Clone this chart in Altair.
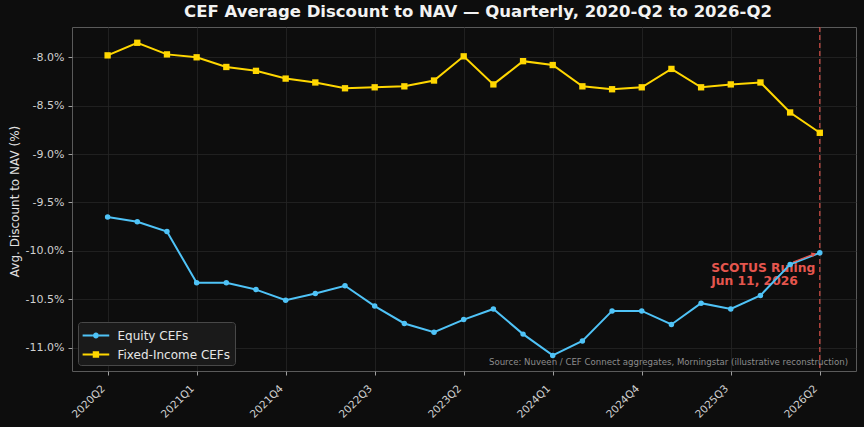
import json

import altair as alt
import pandas as pd

# Quarter labels along the x axis (one per observation)
quarters = [
    "2020Q2", "2020Q3", "2020Q4", "2021Q1", "2021Q2", "2021Q3", "2021Q4",
    "2022Q1", "2022Q2", "2022Q3", "2022Q4", "2023Q1", "2023Q2", "2023Q3",
    "2023Q4", "2024Q1", "2024Q2", "2024Q3", "2024Q4", "2025Q1", "2025Q2",
    "2025Q3", "2025Q4", "2026Q1", "2026Q2",
]

# Average discount to NAV, in percent
equity = [
    -9.65, -9.70, -9.80, -10.33, -10.33, -10.40, -10.51, -10.44, -10.36,
    -10.57, -10.75, -10.84, -10.71, -10.60, -10.86, -11.08, -10.93, -10.62,
    -10.62, -10.76, -10.54, -10.60, -10.46, -10.14, -10.02,
]
fixed_income = [
    -7.98, -7.85, -7.97, -8.00, -8.10, -8.14, -8.22, -8.26, -8.32, -8.31,
    -8.30, -8.24, -7.99, -8.28, -8.04, -8.08, -8.30, -8.33, -8.31, -8.12,
    -8.31, -8.28, -8.26, -8.57, -8.78,
]

series_names = ["Equity CEFs", "Fixed-Income CEFs"]
series_colors = ["#4FC3F7", "#FFD700"]

y_ticks = [-8.0, -8.5, -9.0, -9.5, -10.0, -10.5, -11.0]
x_tick_idx = list(range(0, len(quarters), 3))

# Event marker
event_idx = 24
event_text = ["SCOTUS Ruling", "Jun 11, 2026"]
event_text_at = {"idx": 20.34, "value": -10.215}
arrow_from = {"idx": 23.10, "value": -10.115}
arrow_to = {"idx": 23.80, "value": -10.033}

source_note = ("Source: Nuveen / CEF Connect aggregates, Morningstar "
               "(illustrative reconstruction)")

RED = "#E5564E"
FONT = "DejaVu Sans"

rows = []
for name, values in zip(series_names, [equity, fixed_income]):
    for i, (q, v) in enumerate(zip(quarters, values)):
        rows.append({"idx": i, "quarter": q, "series": name, "value": v})
df = pd.DataFrame(rows)

x_enc = alt.X(
    "idx:Q",
    scale=alt.Scale(domain=[-1.2, 25.22], nice=False, zero=False),
    axis=alt.Axis(
        values=x_tick_idx,
        labelExpr=json.dumps(quarters) + "[datum.value]",
        labelAngle=-45,
        labelAlign="right",
        labelBaseline="top",
        labelOffset=-8,
        labelPadding=8,
        labelFontSize=10.5,
        title=None,
    ),
)
y_enc = alt.Y(
    "value:Q",
    scale=alt.Scale(domain=[-11.241, -7.687], nice=False, zero=False),
    axis=alt.Axis(
        values=y_ticks,
        labelExpr="(datum.value < 0 ? '-' : '') + format(abs(datum.value), '.1f') + '%'",
        labelPadding=4,
        title="Avg. Discount to NAV (%)",
        titleX=-58,
        titleY=174,
        titleAngle=-90,
        titleAlign="center",
        titleBaseline="middle",
    ),
)

base = alt.Chart(df)

# Legend symbols: a short line with the series marker in the middle
legend_paths = [
    "M-1,-0.113H0.162V0.113H-1Z M0.838,-0.113H2V0.113H0.838Z "
    "M0.162,0A0.338,0.338 0 1,0 0.838,0A0.338,0.338 0 1,0 0.162,0Z",
    "M-1,-0.113H0.14V0.113H-1Z M0.86,-0.113H2V0.113H0.86Z "
    "M0.14,-0.36H0.86V0.36H0.14Z",
]
legend_layer = base.mark_point(opacity=0, filled=True).encode(
    x=x_enc,
    y=y_enc,
    color=alt.Color(
        "series:N",
        scale=alt.Scale(domain=series_names, range=series_colors),
        legend=alt.Legend(title=None, symbolOpacity=1),
    ),
    shape=alt.Shape(
        "series:N",
        scale=alt.Scale(domain=series_names, range=legend_paths),
        legend=alt.Legend(title=None, symbolOpacity=1),
    ),
)

event_rule = alt.Chart(pd.DataFrame({"idx": [event_idx]})).mark_rule(
    color=RED, strokeDash=[5, 3], strokeWidth=1.3, opacity=0.85
).encode(x="idx:Q")

event_label = alt.Chart(pd.DataFrame([event_text_at])).mark_text(
    text=event_text, align="left", baseline="alphabetic", font=FONT,
    fontSize=12.3, fontWeight="bold", color=RED, lineHeight=13,
).encode(x="idx:Q", y="value:Q")

arrow_df = pd.DataFrame([{
    "idx": arrow_from["idx"], "value": arrow_from["value"],
    "idx2": arrow_to["idx"], "value2": arrow_to["value"],
}])
arrow_shaft = alt.Chart(arrow_df).mark_rule(color=RED, strokeWidth=1.3).encode(
    x="idx:Q", y="value:Q", x2="idx2:Q", y2="value2:Q"
)
arrow_head = alt.Chart(pd.DataFrame([arrow_to])).mark_point(
    shape="triangle-right", filled=True, color=RED, size=28, angle=339, opacity=1
).encode(x="idx:Q", y="value:Q")


def series_layers(name, color, shape, size):
    sub = base.transform_filter(alt.datum.series == name)
    line = sub.mark_line(color=color, strokeWidth=2).encode(x=x_enc, y=y_enc)
    pts = sub.mark_point(
        shape=shape, filled=True, color=color, size=size, opacity=1
    ).encode(x=x_enc, y=y_enc)
    return [line, pts]


source_text = alt.Chart(pd.DataFrame({"t": [source_note]})).mark_text(
    align="right", baseline="alphabetic", font=FONT, fontSize=8.6,
    color="#8c8c8c",
).encode(text="t:N", x=alt.value(776), y=alt.value(338))

layers = [legend_layer, event_label, event_rule]
layers += series_layers(series_names[1], series_colors[1], "square", 40)
layers += series_layers(series_names[0], series_colors[0], "circle", 30)
layers += [arrow_shaft, arrow_head, source_text]

chart = (
    alt.layer(*layers)
    .properties(
        width=784,
        height=344,
        autosize=alt.AutoSizeParams(type="none"),
        padding={"left": 72, "top": 27, "right": 8, "bottom": 56},
        background="#0D0D0D",
        title=alt.TitleParams(
            "CEF Average Discount to NAV — Quarterly, 2020-Q2 to 2026-Q2",
            font=FONT, fontSize=16.5, fontWeight="bold", color="#F2F2F2",
            anchor="middle", dx=14, offset=6,
        ),
    )
    .configure_view(stroke="#5A5A5A", strokeWidth=1)
    .configure_axis(
        domain=False,
        grid=True,
        gridColor="#262626",
        gridWidth=0.8,
        tickColor="#A0A0A0",
        tickSize=4,
        labelColor="#D0D0D0",
        labelFont=FONT,
        labelFontSize=11,
        titleColor="#E0E0E0",
        titleFont=FONT,
        titleFontSize=12,
        titleFontWeight="normal",
    )
    .configure_legend(
        orient="bottom-left",
        offset=6,
        fillColor="#1A1A1A",
        strokeColor="#484848",
        cornerRadius=3,
        padding=4.5,
        labelColor="#E6E6E6",
        labelFont=FONT,
        labelFontSize=12,
        labelOffset=17,
        symbolSize=315,
        symbolStrokeWidth=0,
        symbolOpacity=1,
        rowPadding=4,
    )
)

chart.save("out.html", embed_options={"renderer": "svg", "actions": False})
